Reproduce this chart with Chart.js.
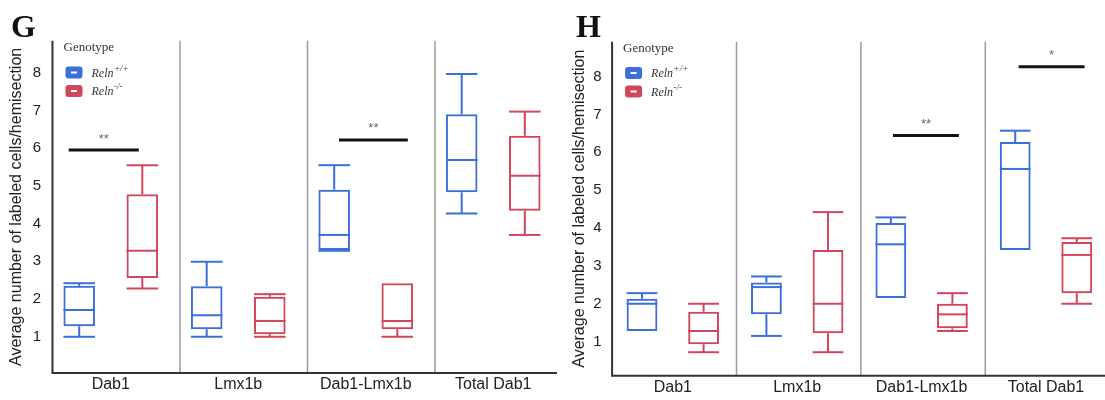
<!DOCTYPE html>
<html>
<head>
<meta charset="utf-8">
<script src="https://cdn.jsdelivr.net/npm/chart.js@4.4.1/dist/chart.umd.min.js"></script>
<style>
  html, body { margin: 0; padding: 0; background: #ffffff; overflow: hidden; }
  body { width: 1105px; height: 400px; position: relative; }
  .panel-letter { position: absolute; top: 10px; font: bold 32px 'Liberation Serif', serif; line-height: 32px; color: #111; }
  #wrapG { position: absolute; left: 0; top: 0; width: 570px; height: 400px; }
  #wrapH { position: absolute; left: 565px; top: 0; width: 545px; height: 400px; }
</style>
</head>
<body>
<div id="wrapG"><canvas id="chartG" width="570" height="400"></canvas></div>
<div id="wrapH"><canvas id="chartH" width="545" height="400"></canvas></div>
<div class="panel-letter" style="left:11px">G</div>
<div class="panel-letter" style="left:576px">H</div>
<script>
// Datos
const categories = ['Dab1', 'Lmx1b', 'Dab1-Lmx1b', 'Total Dab1'];
const yTickValues = [1, 2, 3, 4, 5, 6, 7, 8];

// cada caja: [bigote inferior, Q1, mediana, Q3, bigote superior]
const gWildType = [[1.00, 1.28, 1.71, 2.35, 2.42], [1.00, 1.20, 1.57, 2.34, 2.99], [3.28, 3.30, 3.70, 4.90, 5.55], [4.27, 4.83, 5.69, 6.90, 7.97]];
const gMutant   = [[2.28, 2.56, 3.28, 4.78, 5.55], [1.00, 1.07, 1.42, 2.06, 2.13], [1.00, 1.20, 1.42, 2.42, 2.42], [3.70, 4.34, 5.27, 6.33, 6.97]];
const hWildType = [[1.28, 1.28, 2.00, 2.13, 2.28], [1.15, 1.72, 2.44, 2.56, 2.72], [2.15, 2.15, 3.57, 4.13, 4.28], [3.42, 3.42, 5.56, 6.27, 6.57]];
const hMutant   = [[0.72, 0.93, 1.28, 1.79, 2.00], [0.72, 1.22, 2.00, 3.42, 4.42], [1.28, 1.35, 1.72, 2.00, 2.28], [2.00, 2.28, 3.29, 3.63, 3.73]];

// significancia: categoría, altura, etiqueta
const gSigCategory = [0, 2];
const gSigValue = [5.95, 6.22];
const gSigLabel = ['**', '**'];
const hSigCategory = [2, 3];
const hSigValue = [6.44, 8.26];
const hSigLabel = ['**', '*'];

const BLUE = '#3b6fdc';
const RED = '#d2465a';
const SANS = "'Liberation Sans', Arial, sans-serif";
const SERIF = "'Liberation Serif', 'Times New Roman', serif";

function line(ctx, x0, y0, x1, y1) {
    ctx.beginPath();
    ctx.moveTo(x0, y0);
    ctx.lineTo(x1, y1);
    ctx.stroke();
}

function boxExtras(cfg) {
    return {
        id: 'boxExtras',
        beforeDatasetsDraw(chart) {
            const { ctx, chartArea, scales: { x } } = chart;
            const step = (x.right - x.left) / categories.length;
            ctx.save();
            // separadores entre categorías
            ctx.strokeStyle = '#9b9b9b';
            ctx.lineWidth = 1.5;
            for (let i = 1; i < categories.length; i++) {
                const px = x.left + step * i + cfg.shift;
                line(ctx, px, chartArea.top, px, chartArea.bottom);
            }
            // ejes
            ctx.strokeStyle = '#333';
            ctx.lineWidth = 2;
            const ax = x.left + cfg.shift;
            ctx.beginPath();
            ctx.moveTo(ax, chartArea.top);
            ctx.lineTo(ax, chartArea.bottom);
            ctx.lineTo(chartArea.right, chartArea.bottom);
            ctx.stroke();
            ctx.restore();
        },
        afterDatasetsDraw(chart) {
            const { ctx, chartArea, scales: { x, y } } = chart;
            const step = (x.right - x.left) / categories.length;
            ctx.save();
            ctx.lineWidth = 2;
            // bigotes y medianas
            chart.data.datasets.forEach((ds, d) => {
                const meta = chart.getDatasetMeta(d);
                ctx.strokeStyle = ds.borderColor;
                meta.data.forEach((el, i) => {
                    const s = ds.stats[i];
                    const half = el.width / 2;
                    const pMin = y.getPixelForValue(s[0]);
                    const pQ1 = y.getPixelForValue(s[1]);
                    const pMed = y.getPixelForValue(s[2]);
                    const pQ3 = y.getPixelForValue(s[3]);
                    const pMax = y.getPixelForValue(s[4]);
                    line(ctx, el.x - half, pMed, el.x + half, pMed);
                    if (s[4] > s[3]) {
                        line(ctx, el.x, pQ3, el.x, pMax);
                        line(ctx, el.x - half, pMax, el.x + half, pMax);
                    }
                    if (s[0] < s[1]) {
                        line(ctx, el.x, pQ1, el.x, pMin);
                        line(ctx, el.x - half, pMin, el.x + half, pMin);
                    }
                });
            });
            // barras de significancia
            cfg.sigCategory.forEach((c, i) => {
                const cx = x.getPixelForValue(c);
                const x0 = cx + cfg.sigSpan[i][0] * step;
                const x1 = cx + cfg.sigSpan[i][1] * step;
                const py = y.getPixelForValue(cfg.sigValue[i]);
                ctx.strokeStyle = '#111';
                ctx.lineWidth = 3;
                line(ctx, x0, py, x1, py);
                ctx.fillStyle = '#666';
                ctx.font = '13px ' + SANS;
                ctx.textAlign = 'center';
                ctx.textBaseline = 'middle';
                ctx.fillText(cfg.sigLabel[i], (x0 + x1) / 2, py - 11);
            });
            // leyenda
            const lx = chartArea.left + cfg.shift;
            ctx.fillStyle = '#333';
            ctx.font = '13px ' + SERIF;
            ctx.textAlign = 'left';
            ctx.textBaseline = 'middle';
            ctx.fillText('Genotype', lx + 11, cfg.legendTop);
            const items = [
                { color: BLUE, sup: '+/+' },
                { color: RED, sup: '-/-' }
            ];
            items.forEach((it, i) => {
                const cy = cfg.legendTop + 24.5 + i * 18.5;
                ctx.fillStyle = it.color;
                ctx.beginPath();
                ctx.roundRect(lx + 13, cy - 6, 17, 12, 3);
                ctx.fill();
                ctx.fillStyle = '#fff';
                ctx.fillRect(lx + 18.5, cy - 1, 6, 2);
                ctx.fillStyle = '#333';
                ctx.font = 'italic 12px ' + SERIF;
                ctx.fillText('Reln', lx + 39, cy + 1);
                const w = ctx.measureText('Reln').width;
                ctx.font = 'italic 9px ' + SERIF;
                ctx.fillText(it.sup, lx + 39 + w + 0.5, cy - 4);
            });
            ctx.restore();
        }
    };
}

function makeChart(id, wildType, mutant, cfg) {
    const ctx = document.getElementById(id).getContext('2d');
    const boxData = arr => arr.map(s => [s[1], s[3]]);
    return new Chart(ctx, {
        type: 'bar',
        data: {
            labels: categories,
            datasets: [{
                label: 'Reln+/+',
                data: boxData(wildType),
                stats: wildType,
                backgroundColor: 'rgba(255, 255, 255, 0)',
                borderColor: BLUE,
                borderWidth: 2,
                borderSkipped: false,
                barPercentage: 0.5,
                categoryPercentage: 0.99
            }, {
                label: 'Reln-/-',
                data: boxData(mutant),
                stats: mutant,
                backgroundColor: 'rgba(255, 255, 255, 0)',
                borderColor: RED,
                borderWidth: 2,
                borderSkipped: false,
                barPercentage: 0.5,
                categoryPercentage: 0.99
            }]
        },
        options: {
            responsive: false,
            animation: false,
            layout: {
                padding: { left: 0, right: cfg.padRight, top: cfg.padTop, bottom: 0 }
            },
            plugins: {
                legend: { display: false },
                tooltip: { enabled: false }
            },
            scales: {
                x: {
                    afterFit: scale => { scale.height = cfg.xHeight; },
                    grid: { display: false, drawTicks: false },
                    border: { display: false },
                    ticks: {
                        color: '#222',
                        font: { size: 16, family: SANS },
                        padding: 2,
                        maxRotation: 0,
                        autoSkip: false
                    }
                },
                y: {
                    min: cfg.yMin,
                    max: cfg.yMax,
                    afterBuildTicks: axis => { axis.ticks = yTickValues.map(v => ({ value: v })); },
                    afterFit: scale => { scale.width = cfg.yWidth; },
                    grid: { display: false, drawTicks: false },
                    border: { display: false },
                    ticks: {
                        color: '#222',
                        font: { size: 15, family: SANS },
                        padding: cfg.tickPad
                    },
                    title: {
                        display: true,
                        text: 'Average number of labeled cells/hemisection',
                        color: '#222',
                        font: { size: 16, family: SANS },
                        padding: { top: cfg.titlePad, bottom: 0 }
                    }
                }
            }
        },
        plugins: [boxExtras(cfg)]
    });
}

makeChart('chartG', gWildType, gMutant, {
    yMin: 0.04, yMax: 8.85, yWidth: 47, padTop: 40.7, padRight: 13, xHeight: 27,
    tickPad: 6, titlePad: 7, shift: 5.5, legendTop: 48,
    sigCategory: gSigCategory, sigValue: gSigValue, sigLabel: gSigLabel,
    sigSpan: [[-0.33, 0.22], [-0.21, 0.33]]
});

makeChart('chartH', hWildType, hMutant, {
    yMin: 0.1, yMax: 8.92, yWidth: 45.6, padTop: 41.7, padRight: 1.8, xHeight: 24.3,
    tickPad: 9, titlePad: 5.4, shift: 1.5, legendTop: 48.5,
    sigCategory: hSigCategory, sigValue: hSigValue, sigLabel: hSigLabel,
    sigSpan: [[-0.23, 0.30], [-0.22, 0.31]]
});
</script>
</body>
</html>
